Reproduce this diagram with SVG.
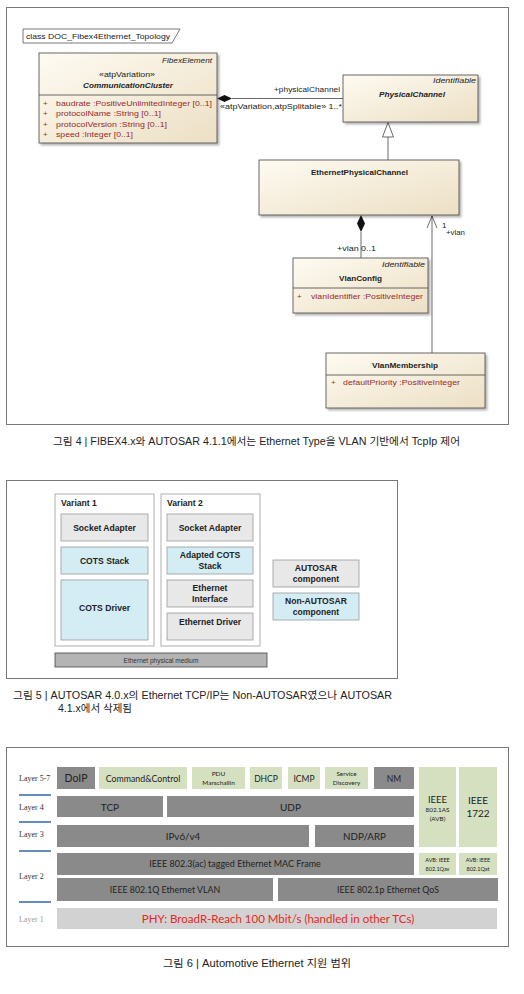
<svg xmlns="http://www.w3.org/2000/svg" width="524" height="994" viewBox="0 0 524 994">
<style>
.frame{fill:#fff;stroke:#777;stroke-width:1}
.uml{fill:url(#beige);stroke:#444;stroke-width:0.8;filter:url(#sh)}
.sep{stroke:#444;stroke-width:0.8}
.u{font-family:"Liberation Sans",Arial,sans-serif;font-size:8px;fill:#222}
.ui{font-style:italic}
.ub{font-weight:bold}
.attr{font-family:"Liberation Sans",Arial,sans-serif;font-size:8px;fill:#9a2a2a}
.line{stroke:#444;stroke-width:0.8;fill:none}
.cap{font-family:"Liberation Sans","Noto Sans CJK KR",sans-serif;font-size:10px;fill:#222}
.v5{font-family:"Liberation Sans",Arial,sans-serif;font-size:8.6px;font-weight:bold;fill:#222;text-anchor:middle}
.v5s{font-family:"Liberation Sans",Arial,sans-serif;font-size:8.6px;font-weight:bold;fill:#222}
.grey{fill:#e8e8e8;stroke:#999;stroke-width:0.8}
.blue{fill:#d4edf5;stroke:#999;stroke-width:0.8}
.var{fill:#fff;stroke:#999;stroke-width:0.8}
.dk{fill:#8a8a8a}
.gr{fill:#d5e0c1}
.l6{font-family:Lato,"Open Sans",sans-serif;fill:#222;text-anchor:middle}
.lay{font-family:"Liberation Serif","Times New Roman",serif;font-size:8px;fill:#333}
.blu{stroke:#3f6fae;stroke-width:1.6}
</style>
<defs>
<linearGradient id="beige" x1="0" y1="0" x2="1" y2="1">
<stop offset="0" stop-color="#fefbf2"/>
<stop offset="1" stop-color="#ecdfc4"/>
</linearGradient>
<filter id="sh" x="-10%" y="-10%" width="125%" height="130%">
<feDropShadow dx="2" dy="2" stdDeviation="1" flood-color="#000" flood-opacity="0.3"/>
</filter>
</defs>

<!-- Figure 4 -->
<rect class="frame" x="6.5" y="7.5" width="502" height="417"/>
<g id="tab">
<path d="M23,29 H180 L172,43 H23 Z" fill="#fff" stroke="#555" stroke-width="0.8"/>
<text class="u" x="26" y="39" textLength="144" lengthAdjust="spacingAndGlyphs">class DOC_Fibex4Ethernet_Topology</text>
</g>

<g id="connectors">
<line class="line" x1="232" y1="98.5" x2="343" y2="98.5"/>
<polygon points="217,98.5 224.5,95 232,98.5 224.5,102" fill="#111"/>
<text class="u" x="274" y="92" textLength="66" lengthAdjust="spacingAndGlyphs">+physicalChannel</text>
<text class="u" x="220" y="109" textLength="122" lengthAdjust="spacingAndGlyphs">«atpVariation,atpSplitable»  1..*</text>
<line class="line" x1="388" y1="137" x2="388" y2="160"/>
<polygon points="388,122.5 382.5,137 393.5,137" fill="#fff" stroke="#444" stroke-width="0.8"/>
<line class="line" x1="361" y1="232" x2="361" y2="258"/>
<polygon points="361,215 357,223.5 361,232 365,223.5" fill="#111"/>
<text class="u" x="337" y="251" textLength="39" lengthAdjust="spacingAndGlyphs">+vlan  0..1</text>
<line class="line" x1="432" y1="216" x2="432" y2="353"/>
<polyline class="line" points="427,228 432,216 437,228"/>
<text class="u" x="442" y="228">1</text>
<text class="u" x="446" y="235" textLength="19" lengthAdjust="spacingAndGlyphs">+vlan</text>
</g>

<g id="CommunicationCluster">
<rect class="uml" x="39" y="53" width="178" height="90"/>
<line class="sep" x1="39" y1="95" x2="217" y2="95"/>
<text class="u ui" x="162" y="63" textLength="50" lengthAdjust="spacingAndGlyphs">FibexElement</text>
<text class="u" x="99" y="77" textLength="56" lengthAdjust="spacingAndGlyphs">«atpVariation»</text>
<text class="u ui ub" x="83" y="88" textLength="90" lengthAdjust="spacingAndGlyphs">CommunicationCluster</text>
<text class="attr" x="43" y="106">+</text>
<text class="attr" x="56" y="106" textLength="156" lengthAdjust="spacingAndGlyphs">baudrate  :PositiveUnlimitedInteger [0..1]</text>
<text class="attr" x="43" y="116">+</text>
<text class="attr" x="56" y="116" textLength="105" lengthAdjust="spacingAndGlyphs">protocolName  :String [0..1]</text>
<text class="attr" x="43" y="127">+</text>
<text class="attr" x="56" y="127" textLength="111" lengthAdjust="spacingAndGlyphs">protocolVersion  :String [0..1]</text>
<text class="attr" x="43" y="137">+</text>
<text class="attr" x="56" y="137" textLength="77" lengthAdjust="spacingAndGlyphs">speed  :Integer [0..1]</text>
</g>

<g id="PhysicalChannel">
<rect class="uml" x="343" y="75" width="135" height="47"/>
<text class="u ui" x="433" y="83" textLength="43" lengthAdjust="spacingAndGlyphs">Identifiable</text>
<text class="u ui ub" x="379" y="97" textLength="66" lengthAdjust="spacingAndGlyphs">PhysicalChannel</text>
</g>

<g id="EthernetPhysicalChannel">
<rect class="uml" x="259" y="160" width="200" height="55"/>
<text class="u ub" x="311" y="175" textLength="97" lengthAdjust="spacingAndGlyphs">EthernetPhysicalChannel</text>
</g>

<g id="VlanConfig">
<rect class="uml" x="293" y="258" width="135" height="55"/>
<line class="sep" x1="293" y1="288" x2="428" y2="288"/>
<text class="u ui" x="382" y="267" textLength="43" lengthAdjust="spacingAndGlyphs">Identifiable</text>
<text class="u ub" x="339" y="281" textLength="43" lengthAdjust="spacingAndGlyphs">VlanConfig</text>
<text class="attr" x="297" y="299">+</text>
<text class="attr" x="311" y="299" textLength="112" lengthAdjust="spacingAndGlyphs">vlanIdentifier  :PositiveInteger</text>
</g>

<g id="VlanMembership">
<rect class="uml" x="326" y="353" width="159" height="55"/>
<line class="sep" x1="326" y1="375" x2="485" y2="375"/>
<text class="u ub" x="372" y="368" textLength="66" lengthAdjust="spacingAndGlyphs">VlanMembership</text>
<text class="attr" x="331" y="385">+</text>
<text class="attr" x="343" y="385" textLength="117" lengthAdjust="spacingAndGlyphs">defaultPriority  :PositiveInteger</text>
</g>

<text class="cap" x="53" y="445" textLength="407" lengthAdjust="spacingAndGlyphs">그림 4  |  FIBEX4.x와 AUTOSAR 4.1.1에서는 Ethernet Type을 VLAN 기반에서 TcpIp 제어</text>

<!-- Figure 5 -->
<rect class="frame" x="6.5" y="480.5" width="391" height="198"/>
<g id="variant1">
<rect class="var" x="55" y="494" width="99" height="152"/>
<text class="v5s" x="61" y="506">Variant 1</text>
</g>
<g id="v1-socket"><rect class="grey" x="61" y="514" width="87" height="27"/><text class="v5" x="104.5" y="530.5">Socket Adapter</text></g>
<g id="v1-cotsstack"><rect class="blue" x="61" y="547" width="87" height="27"/><text class="v5" x="104.5" y="563.5">COTS Stack</text></g>
<g id="v1-cotsdriver"><rect class="blue" x="61" y="580" width="87" height="60"/><text class="v5" x="104.5" y="610.5">COTS Driver</text></g>
<g id="variant2">
<rect class="var" x="161" y="494" width="99" height="152"/>
<text class="v5s" x="167" y="506">Variant 2</text>
</g>
<g id="v2-socket"><rect class="grey" x="167" y="514" width="86" height="27"/><text class="v5" x="210" y="530.5">Socket Adapter</text></g>
<g id="v2-adapted"><rect class="blue" x="167" y="547" width="86" height="27"/><text class="v5" x="210" y="558">Adapted COTS</text><text class="v5" x="210" y="568.5">Stack</text></g>
<g id="v2-ethif"><rect class="grey" x="167" y="580" width="86" height="27"/><text class="v5" x="210" y="591">Ethernet</text><text class="v5" x="210" y="601.5">Interface</text></g>
<g id="v2-ethdrv"><rect class="grey" x="167" y="613" width="86" height="27"/><text class="v5" x="210" y="624.5">Ethernet Driver</text></g>
<g id="medium"><rect x="55" y="653" width="212" height="14" fill="#b4b4b4" stroke="#444" stroke-width="0.8"/><text x="161" y="662.5" font-family="Liberation Sans,Arial,sans-serif" font-size="6.5" fill="#333" text-anchor="middle">Ethernet physical medium</text></g>
<g id="legend-autosar"><rect class="grey" x="273" y="560" width="86" height="27"/><text class="v5" x="316" y="571">AUTOSAR</text><text class="v5" x="316" y="581.5">component</text></g>
<g id="legend-nonautosar"><rect class="blue" x="273" y="593" width="86" height="27"/><text class="v5" x="316" y="604">Non-AUTOSAR</text><text class="v5" x="316" y="614.5">component</text></g>

<text class="cap" x="13" y="699" textLength="379" lengthAdjust="spacingAndGlyphs">그림 5  |  AUTOSAR 4.0.x의 Ethernet TCP/IP는 Non-AUTOSAR였으나 AUTOSAR</text>
<text class="cap" x="58" y="712" textLength="74" lengthAdjust="spacingAndGlyphs">4.1.x에서 삭제됨</text>

<!-- Figure 6 -->
<rect class="frame" x="6.5" y="747.5" width="502" height="199"/>
<g id="layer-labels">
<text class="lay" x="19" y="781">Layer 5-7</text>
<text class="lay" x="19" y="810">Layer 4</text>
<text class="lay" x="19" y="837">Layer 3</text>
<text class="lay" x="19" y="879">Layer 2</text>
<text class="lay" x="19" y="922" style="fill:#9a9a9a">Layer 1</text>
<line class="blu" x1="19" y1="795" x2="51" y2="795"/>
<line class="blu" x1="19" y1="822" x2="51" y2="822"/>
<line class="blu" x1="19" y1="851" x2="51" y2="851"/>
<line class="blu" x1="19" y1="902" x2="51" y2="902"/>
</g>
<g id="doip"><rect class="dk" x="57" y="767" width="38" height="22"/><text class="l6" x="76" y="782" font-size="10.5">DoIP</text></g>
<g id="cmd"><rect class="gr" x="99" y="767" width="88" height="22"/><text class="l6" x="143" y="781.5" font-size="8.8">Command&amp;Control</text></g>
<g id="pdu"><rect class="gr" x="192" y="767" width="53" height="22"/><text class="l6" x="218.5" y="775.5" font-size="6.5">PDU</text><text class="l6" x="218.5" y="784.5" font-size="6.5">Marschallin</text></g>
<g id="dhcp"><rect class="gr" x="250" y="767" width="32" height="22"/><text class="l6" x="266" y="781.5" font-size="8.5">DHCP</text></g>
<g id="icmp"><rect class="gr" x="288" y="767" width="32" height="22"/><text class="l6" x="304" y="781.5" font-size="8.5">ICMP</text></g>
<g id="sd"><rect class="gr" x="325" y="767" width="43" height="22"/><text class="l6" x="346.5" y="775.5" font-size="6.3">Service</text><text class="l6" x="346.5" y="784.5" font-size="6.3">Discovery</text></g>
<g id="nm"><rect class="dk" x="374" y="767" width="40" height="22"/><text class="l6" x="394" y="781.5" font-size="8.5">NM</text></g>
<g id="avb"><rect class="gr" x="419" y="767" width="37" height="80"/><text class="l6" x="437.5" y="803" font-size="9.5">IEEE</text><text class="l6" x="437.5" y="812" font-size="6.3">802.1AS</text><text class="l6" x="437.5" y="821" font-size="6.3">(AVB)</text></g>
<g id="ieee1722"><rect class="gr" x="459" y="767" width="38" height="80"/><text class="l6" x="478" y="804" font-size="10">IEEE</text><text class="l6" x="478" y="817" font-size="10">1722</text></g>
<g id="tcp"><rect class="dk" x="57" y="796" width="106" height="21"/><text class="l6" x="110" y="810.5" font-size="10">TCP</text></g>
<g id="udp"><rect class="dk" x="167" y="796" width="247" height="21"/><text class="l6" x="290.5" y="810.5" font-size="10">UDP</text></g>
<g id="ip"><rect class="dk" x="57" y="825" width="252" height="22"/><text class="l6" x="183" y="839.5" font-size="9.8">IPv6/v4</text></g>
<g id="ndp"><rect class="dk" x="315" y="825" width="99" height="22"/><text class="l6" x="364.5" y="839.5" font-size="9.8">NDP/ARP</text></g>
<g id="mac"><rect class="dk" x="57" y="853" width="357" height="22"/><text class="l6" x="235" y="867" font-size="9">IEEE 802.3(ac) tagged Ethernet MAC Frame</text></g>
<g id="qav"><rect class="gr" x="419" y="853" width="37" height="22"/><text class="l6" x="437.5" y="862" font-size="5.5">AVB: IEEE</text><text class="l6" x="437.5" y="870.5" font-size="5.5">802.1Qav</text></g>
<g id="qat"><rect class="gr" x="459" y="853" width="38" height="22"/><text class="l6" x="478" y="862" font-size="5.5">AVB: IEEE</text><text class="l6" x="478" y="870.5" font-size="5.5">802.1Qat</text></g>
<g id="vlan"><rect class="dk" x="57" y="878" width="216" height="23"/><text class="l6" x="165" y="892.5" font-size="8.8">IEEE 802.1Q Ethernet VLAN</text></g>
<g id="qos"><rect class="dk" x="278" y="878" width="220" height="23"/><text class="l6" x="388" y="892.5" font-size="8.8">IEEE 802.1p Ethernet QoS</text></g>
<g id="phy"><rect x="57" y="908" width="440" height="21" fill="#d2d2d2"/><text class="l6" x="278" y="923" font-size="11.5" style="fill:#e8261f">PHY: BroadR-Reach 100 Mbit/s (handled in other TCs)</text></g>

<text class="cap" x="163" y="967" textLength="188" lengthAdjust="spacingAndGlyphs">그림 6  |  Automotive Ethernet 지원 범위</text>
</svg>
